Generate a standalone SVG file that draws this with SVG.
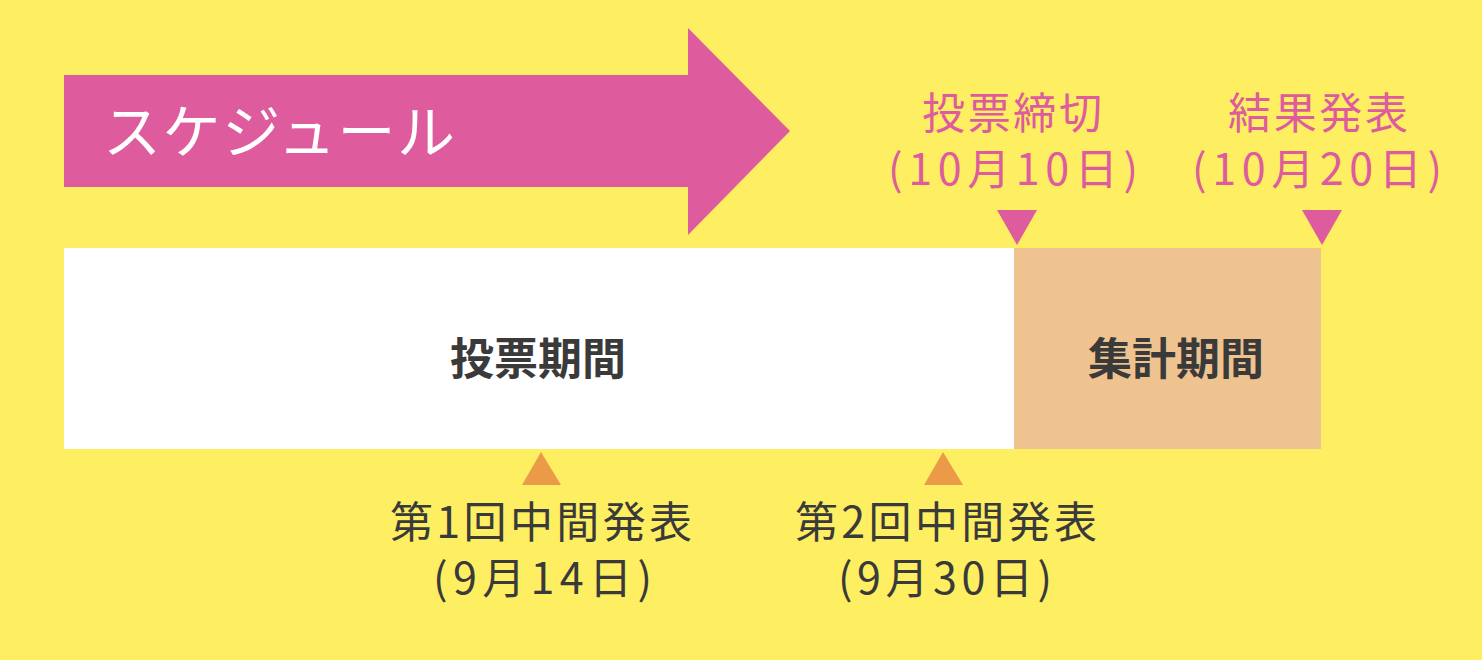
<svg xmlns="http://www.w3.org/2000/svg" width="1482" height="660" viewBox="0 0 1482 660">
<style>
text{font-family:"Noto Sans CJK JP","Noto Sans CJK SC",sans-serif;}
.pink{fill:#DE5C9D;font-size:43px;}
.dark{fill:#3A3A3A;font-size:43px;}
.bold{fill:#3A3A3A;font-size:44px;font-weight:bold;}
.title{fill:#FFFFFF;font-size:58px;}
</style>
<rect x="0" y="0" width="1482" height="660" fill="#FDEE62"/>
<g id="header">
<polygon points="64,75 688,75 688,28 790,131 688,235 688,187 64,187" fill="#DE5C9D"/>
<text class="title" x="103" y="153" textLength="352" lengthAdjust="spacing">スケジュール</text>
</g>
<g id="voting-period">
<rect x="64" y="248" width="950" height="201" fill="#FFFFFF"/>
<text class="bold" x="538" y="375" text-anchor="middle">投票期間</text>
</g>
<g id="counting-period">
<rect x="1014" y="248" width="307" height="201" fill="#EEC390"/>
<text class="bold" x="1176" y="375" text-anchor="middle">集計期間</text>
</g>
<g id="connectors">
<polygon points="997,210 1037,210 1017,245" fill="#DE5C9D"/>
<polygon points="1302,210 1342,210 1322,245" fill="#DE5C9D"/>
<polygon points="541,452 522,485 561,485" fill="#EB9A48"/>
<polygon points="943,452 924,485 963,485" fill="#EB9A48"/>
</g>
<g id="deadline">
<text class="pink" x="922" y="129" textLength="180" lengthAdjust="spacing">投票締切</text>
<text class="pink" x="888" y="185" textLength="250" lengthAdjust="spacing">(10月10日)</text>
</g>
<g id="results">
<text class="pink" x="1228" y="129" textLength="180" lengthAdjust="spacing">結果発表</text>
<text class="pink" x="1192" y="185" textLength="250" lengthAdjust="spacing">(10月20日)</text>
</g>
<g id="interim1">
<text class="dark" x="390" y="538" textLength="302" lengthAdjust="spacing">第1回中間発表</text>
<text class="dark" x="433" y="594" textLength="219" lengthAdjust="spacing">(9月14日)</text>
</g>
<g id="interim2">
<text class="dark" x="795" y="538" textLength="302" lengthAdjust="spacing">第2回中間発表</text>
<text class="dark" x="838" y="594" textLength="214" lengthAdjust="spacing">(9月30日)</text>
</g>
</svg>
